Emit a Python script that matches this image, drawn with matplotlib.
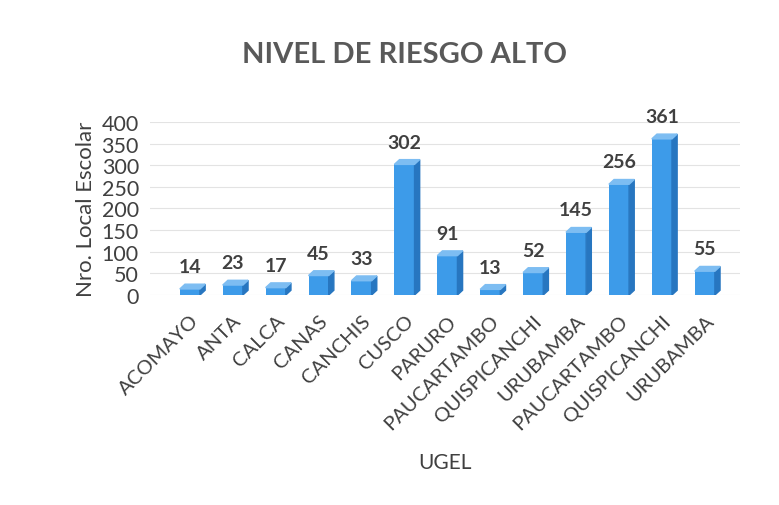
import matplotlib
matplotlib.use("Agg")
import matplotlib.pyplot as plt
from matplotlib.patches import Polygon

ugel = ["ACOMAYO", "ANTA", "CALCA", "CANAS", "CANCHIS", "CUSCO", "PARURO",
        "PAUCARTAMBO", "QUISPICANCHI", "URUBAMBA", "PAUCARTAMBO",
        "QUISPICANCHI", "URUBAMBA"]
locales = [14, 23, 17, 45, 33, 302, 91, 13, 52, 145, 256, 361, 55]
yticks = [0, 50, 100, 150, 200, 250, 300, 350, 400]

plt.rcParams['font.family'] = ['Lato', 'DejaVu Sans']

fig = plt.figure(figsize=(7.79, 5.06), dpi=100)
ax = fig.add_axes([150 / 779, 210 / 506, 590 / 779, 173 / 506])

front = "#3d9be9"
side = "#2776c0"
top = "#7dbdf2"
w = 0.47
dx, dy = 0.12, 11

# --- bars with a fake 3d look ---
xs = list(range(len(ugel)))
ax.bar(xs, locales, width=w, color=front, zorder=3)
for x, v in zip(xs, locales):
    l, r = x - w / 2, x + w / 2
    ax.add_patch(Polygon([(r, 0), (r + dx, dy), (r + dx, v + dy), (r, v)],
                         closed=True, color=side, zorder=3))
    ax.add_patch(Polygon([(l, v), (r, v), (r + dx, v + dy), (l + dx, v + dy)],
                         closed=True, color=top, zorder=3))
    ax.text(x, v + 32, str(v), ha="center", va="bottom", fontsize=14,
            fontweight="bold", color="#404040", clip_on=False)

ax.set_xlim(-0.93, 12.82)
ax.set_ylim(0, 400)
ax.set_yticks(yticks)
ax.set_xticks(xs)
ax.set_xticklabels(ugel, rotation=45, ha="right", rotation_mode="anchor",
                   fontsize=14.5, color="#404040")
ax.tick_params(axis="y", labelsize=15.5, labelcolor="#404040", length=0, pad=8)
ax.tick_params(axis="x", length=0, pad=12)
ax.grid(axis="y", color="#e3e3e3", linewidth=0.8, zorder=0)
for s in ax.spines.values():
    s.set_visible(False)

ax.set_ylabel("Nro. Local Escolar", fontsize=16, color="#404040", labelpad=4)
ax.set_xlabel("UGEL", fontsize=15, color="#404040", labelpad=14)
fig.text(405 / 779, 1 - 55 / 506, "NIVEL DE RIESGO ALTO", ha="center",
         va="center", fontsize=21, fontweight="bold", color="#595959")

fig.savefig("out.png", dpi=100)
